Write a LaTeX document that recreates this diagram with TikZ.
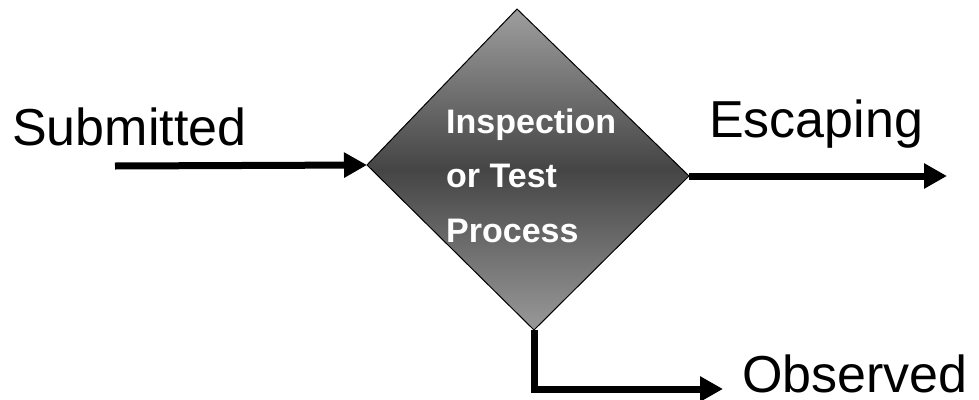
\documentclass[tikz,border=0pt]{standalone}
\usepackage{fontspec}
\setmainfont{Liberation Sans}
\usetikzlibrary{arrows.meta}
\begin{document}
\begin{tikzpicture}[x=1pt,y=-1pt,
  label/.style={anchor=base west,inner sep=0pt,text depth=0pt,font=\fontsize{52}{52}\selectfont},
  flow/.style={line width=7pt,-{Triangle[length=23pt,width=24pt]},line join=miter},
  proctext/.style={anchor=base west,inner sep=0pt,text=white,font=\fontsize{34}{34}\selectfont\bfseries}]
\useasboundingbox (0,0) rectangle (979,399);
% decision diamond corners
\coordinate (dT) at (517,9);
\coordinate (dL) at (367,165);
\coordinate (dR) at (689,176);
\coordinate (dB) at (534,330);
\shade[top color=black!38,bottom color=black!40,middle color=black!73]
  (dT) -- (dR) -- (dB) -- (dL) -- cycle;
\draw[line width=1pt,line join=miter] (dT) -- (dR) -- (dB) -- (dL) -- cycle;
% process text
\node[proctext] (p1) at (446,133) {Inspection};
\node[proctext] (p2) at (446,187) {or Test};
\node[proctext] (p3) at (446,242) {Process};
% flow labels
\node[label] (sub) at (12,145) {Submitted};
\node[label] (esc) at (709,137) {Escaping};
\node[label] (obs) at (742,392) {Observed};
% connectors
\coordinate (subStart) at (115,166);
\coordinate (escEnd) at (947,176);
\coordinate (obsEnd) at (723,389);
\draw[flow] (subStart) -- (dL);
\draw[flow] (dR) -- (escEnd);
\draw[flow] (dB) |- (obsEnd);
\end{tikzpicture}
\end{document}
